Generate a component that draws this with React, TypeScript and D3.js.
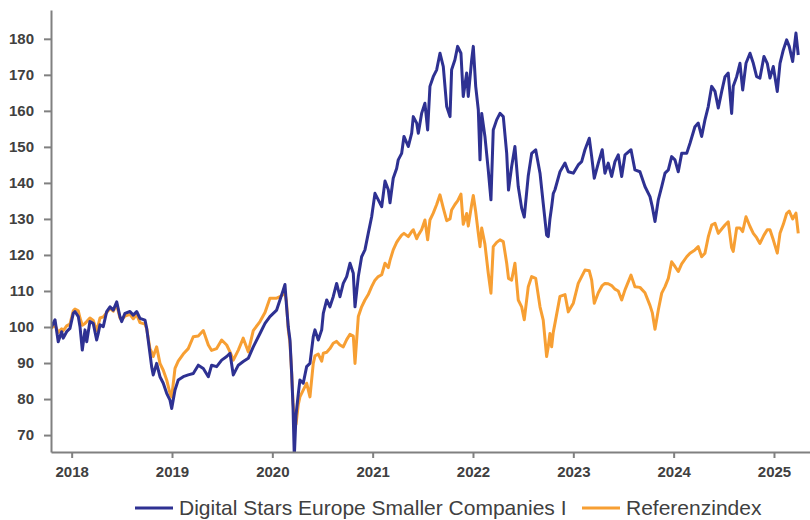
import React, { useEffect, useRef } from "react";
import * as d3 from "d3";

// time axis in decimal years, shared by both series
const years = [
  2017.789, 2017.834, 2017.866, 2017.9, 2017.916, 2017.95, 2017.983, 2018.016, 2018.033, 2018.066, 2018.083, 2018.106, 2018.133, 2018.15, 2018.182, 2018.215, 2018.249, 2018.265, 2018.282, 2018.315, 2018.349, 2018.382, 2018.415, 2018.449, 2018.481, 2018.498, 2018.531, 2018.581, 2018.614, 2018.648, 2018.681, 2018.731, 2018.748, 2018.78, 2018.797, 2018.813, 2018.847, 2018.88, 2018.913, 2018.947, 2018.98, 2018.997,
  2019.03, 2019.062, 2019.112, 2019.162, 2019.212, 2019.262, 2019.312, 2019.362, 2019.395, 2019.445, 2019.495, 2019.545, 2019.578, 2019.611, 2019.661, 2019.71, 2019.76, 2019.81, 2019.877, 2019.927, 2019.976,
  2020.043, 2020.076, 2020.109, 2020.126, 2020.141, 2020.159, 2020.176, 2020.193, 2020.206, 2020.219, 2020.236, 2020.259, 2020.275, 2020.308, 2020.342, 2020.375, 2020.408, 2020.425, 2020.458, 2020.492, 2020.508, 2020.542, 2020.574, 2020.607, 2020.641, 2020.674, 2020.707, 2020.741, 2020.774, 2020.807, 2020.824, 2020.857, 2020.89, 2020.923, 2020.956, 2020.99,
  2021.023, 2021.056, 2021.09, 2021.123, 2021.156, 2021.173, 2021.205, 2021.239, 2021.255, 2021.289, 2021.312, 2021.355, 2021.389, 2021.405, 2021.439, 2021.455, 2021.488, 2021.521, 2021.548, 2021.571, 2021.604, 2021.638, 2021.671, 2021.704, 2021.738, 2021.771, 2021.787, 2021.82, 2021.847, 2021.88, 2021.903, 2021.937, 2021.953, 2021.987,
  2022.003, 2022.027, 2022.053, 2022.07, 2022.087, 2022.119, 2022.152, 2022.179, 2022.202, 2022.236, 2022.269, 2022.302, 2022.336, 2022.354, 2022.385, 2022.418, 2022.451, 2022.485, 2022.511, 2022.551, 2022.585, 2022.625, 2022.668, 2022.7, 2022.734, 2022.75, 2022.767, 2022.784, 2022.8, 2022.817, 2022.867, 2022.917, 2022.95,
  2023.0, 2023.049, 2023.083, 2023.116, 2023.159, 2023.183, 2023.209, 2023.249, 2023.288, 2023.315, 2023.348, 2023.382, 2023.415, 2023.448, 2023.482, 2023.515, 2023.575, 2023.614, 2023.664, 2023.714, 2023.764, 2023.787, 2023.814, 2023.847, 2023.881, 2023.914, 2023.947, 2023.98,
  2024.013, 2024.046, 2024.08, 2024.13, 2024.163, 2024.212, 2024.245, 2024.279, 2024.312, 2024.345, 2024.379, 2024.412, 2024.445, 2024.479, 2024.512, 2024.544, 2024.578, 2024.594, 2024.628, 2024.661, 2024.688, 2024.721, 2024.761, 2024.794, 2024.827, 2024.86, 2024.9, 2024.933, 2024.96, 2024.993, 2025.033, 2025.06, 2025.093, 2025.126, 2025.152, 2025.186, 2025.219, 2025.242,
];

const fundValues = [
  99.5, 102, 95.9, 98.7, 96.9, 98.7, 99.6, 103.8, 104.3, 102.9, 100.1, 93.6, 99.2, 95.9, 101.5, 101, 96.4, 98.2, 100.6, 100.1, 104.3, 105.6, 104.7, 107, 102.9, 101.5, 103.8, 104.3, 103.3, 104.3, 102.4, 101.9, 99.6, 92.7, 89, 86.7, 89.9, 86.2, 84.4, 81.6, 79.7, 77.4,
  82.5, 85.3, 86.2, 86.7, 87.1, 89.4, 88.5, 86.2, 89.4, 89, 90.8, 91.8, 92.7, 86.7, 89.4, 90.4, 91.3, 94.5, 98.2, 101, 102.9,
  104.7, 107.5, 110.3, 111.8, 106, 100, 96.4, 87, 78, 64, 75.5, 81.5, 85.3, 84.4, 89, 89.9, 97.3, 99.2, 96.4, 99.2, 103.8, 107.5, 105.6, 108.4, 112.1, 108.4, 112.1, 114, 117.7, 114.9, 105.6, 114, 119.5, 121.4, 126, 130.6,
  137.1, 135.3, 133.4, 140.5, 138.1, 134.5, 141.3, 144, 146.4, 148.2, 152.9, 150.1, 153.8, 158.4, 156.6, 153.8, 159.3, 162.1, 154.7, 166.8, 169.5, 171.4, 176, 172.3, 161.2, 158.4, 171.4, 174.2, 177.9, 176, 164, 170.5, 164, 174.2,
  177.9, 166.8, 160.3, 146.4, 159.3, 152.9, 143.6, 135.3, 154.7, 157.5, 159.3, 158.4, 148.2, 138, 144.5, 150.1, 139, 133, 130.5, 142, 148.2, 149.2, 142.7, 134.3, 125.5, 125.1, 130, 133.4, 137, 138.1, 143.1, 145.5, 143.1,
  142.7, 145, 145.9, 149.2, 152.4, 147.3, 141.3, 145.5, 149.2, 142.7, 145.5, 141.8, 145.9, 147.8, 141.8, 147.8, 149.2, 143.6, 143.1, 139, 136.2, 133.4, 129.3, 135.3, 139, 142.7, 143.6, 147.3,
  146.4, 143.1, 148.2, 148.2, 151, 155.6, 156.6, 152.9, 157.5, 161.2, 166.8, 165.4, 160.8, 165.4, 169.5, 170.5, 159.3, 166.8, 169.5, 173.2, 165.8, 173.2, 176, 173.2, 169.5, 169.1, 175.1, 173.2, 169.1, 172.3, 165.4, 173.2, 176.9, 179.7, 177.9, 173.7, 181.6, 175.5,
];

const indexValues = [
  99.5, 100.5, 98.5, 99.5, 99, 100.3, 100.8, 104.5, 105, 104.5, 102.5, 100.5, 101, 101.5, 102.5, 101.8, 99, 100.5, 102.5, 102.8, 104, 105.2, 104.4, 106.2, 102.5, 102, 103, 103.5, 102.3, 103.5, 101.2, 100.8, 99.5, 94, 93, 91.8, 94.5, 89.9, 88, 85.3, 81.6, 80.6,
  88.5, 90.5, 92.5, 94, 97.3, 97.5, 99, 95, 93.5, 94, 96.4, 95, 93.1, 90.8, 93.6, 96.9, 93.1, 99, 101.5, 104, 108,
  108, 108.4, 109, 109.5, 107, 99.2, 95.5, 87, 79, 75, 73, 78.5, 80.6, 82.5, 84.4, 80.6, 89.9, 92, 92.5, 90.5, 92.7, 93, 94, 95.5, 96, 95, 94.5, 96.5, 98, 97.5, 89.9, 102.9, 105.6, 107.5, 109, 111.2,
  113, 114, 114.5, 117.7, 116.5, 118.5, 121.4, 123.5, 124.2, 125.5, 126, 125.1, 126.5, 127, 124.5, 125.5, 127, 129.7, 124.2, 129.7, 131.6, 134, 136.7, 133, 129.5, 130, 132.5, 134, 135, 136.9, 128.5, 131.5, 128, 134,
  136.5, 132, 126, 122.3, 127.5, 123, 115, 109.4, 122.3, 123.5, 124.2, 123.7, 117.7, 113.5, 113, 117.7, 107.5, 105.6, 102, 111.2, 114, 113.5, 105.6, 101.9, 91.8, 94.5, 98.2, 94.5, 98.5, 101, 108.5, 109, 104.2,
  106.6, 112.1, 114, 115.8, 115.6, 113, 106.6, 109.5, 111.5, 112.1, 112, 111.5, 110.5, 110, 107.5, 110.3, 114.4, 111.2, 111, 109.5, 106, 104, 99.4, 104.7, 109.4, 111.2, 113.5, 118.1,
  116.8, 115.4, 117.5, 119.5, 120.5, 121.4, 122.3, 119.5, 120.5, 125, 128.3, 128.8, 126, 127.2, 128.3, 129.2, 122, 121, 127.5, 127.5, 126.5, 130.6, 127.9, 126, 124.8, 123.2, 125.5, 127, 127, 124.2, 120.5, 126, 128.5, 131.5, 132.2, 130, 131.6, 126,
];

const xTicks = [2018, 2019, 2020, 2021, 2022, 2023, 2024, 2025];
const yTicks = [70, 80, 90, 100, 110, 120, 130, 140, 150, 160, 170, 180];

const fundName = "Digital Stars Europe Smaller Companies I";
const indexName = "Referenzindex";
const fundColor = "#2e3192";
const indexColor = "#f79f33";

export default function App() {
  const ref = useRef<SVGSVGElement>(null);

  useEffect(() => {
    const svg = d3.select(ref.current);
    svg.selectAll("*").remove();

    const left = 51, right = 810, top = 10, bottom = 452;
    const x = d3.scaleLinear().domain([2017.794, 2025.359]).range([left, right]);
    const y = d3.scaleLinear().domain([65.3, 188]).range([bottom, top]);

    svg.append("defs").append("clipPath").attr("id", "plot-clip")
      .append("rect")
      .attr("x", left).attr("y", top)
      .attr("width", right - left).attr("height", bottom - top);

    const n = Math.min(years.length, fundValues.length, indexValues.length);
    const idx = d3.range(n);

    const line = (vals: number[]) =>
      d3.line<number>()
        .x((i) => x(years[i]))
        .y((i) => y(vals[i]))(idx);

    const plot = svg.append("g").attr("clip-path", "url(#plot-clip)");
    plot.append("path")
      .attr("d", line(indexValues))
      .attr("fill", "none")
      .attr("stroke", indexColor)
      .attr("stroke-width", 3)
      .attr("stroke-linejoin", "round");
    plot.append("path")
      .attr("d", line(fundValues))
      .attr("fill", "none")
      .attr("stroke", fundColor)
      .attr("stroke-width", 3)
      .attr("stroke-linejoin", "round");

    const fontFamily = "'Liberation Sans', Arial, sans-serif";

    const yAxis = svg.append("g")
      .attr("transform", `translate(${left},0)`)
      .call(d3.axisLeft(y).tickValues(yTicks).tickSize(7).tickSizeOuter(0).tickPadding(10));
    const xAxis = svg.append("g")
      .attr("transform", `translate(0,${bottom})`)
      .call(d3.axisBottom(x).tickValues(xTicks).tickFormat(d3.format("d")).tickSize(6).tickSizeOuter(0).tickPadding(8));

    [yAxis, xAxis].forEach((g) => {
      g.select(".domain").attr("stroke", "#808080").attr("stroke-width", 2);
      g.selectAll(".tick line").attr("stroke", "#808080").attr("stroke-width", 2);
      g.selectAll(".tick text")
        .attr("fill", "#404040")
        .style("font-family", fontFamily)
        .style("font-size", "15px")
        .style("font-weight", "bold");
    });

    // legend
    const legend = svg.append("g");
    const items = [
      { name: fundName, color: fundColor, x0: 135 },
      { name: indexName, color: indexColor, x0: 582 },
    ];
    items.forEach((it) => {
      legend.append("line")
        .attr("x1", it.x0).attr("x2", it.x0 + 38)
        .attr("y1", 508).attr("y2", 508)
        .attr("stroke", it.color)
        .attr("stroke-width", 3);
      legend.append("text")
        .attr("x", it.x0 + 44)
        .attr("y", 515)
        .attr("fill", "#404040")
        .style("font-family", fontFamily)
        .style("font-size", "21px")
        .text(it.name);
    });
  }, []);

  return (
    <svg
      ref={ref}
      width={810}
      height={520}
      style={{ position: "absolute", left: 0, top: 0, background: "#fff" }}
    />
  );
}
